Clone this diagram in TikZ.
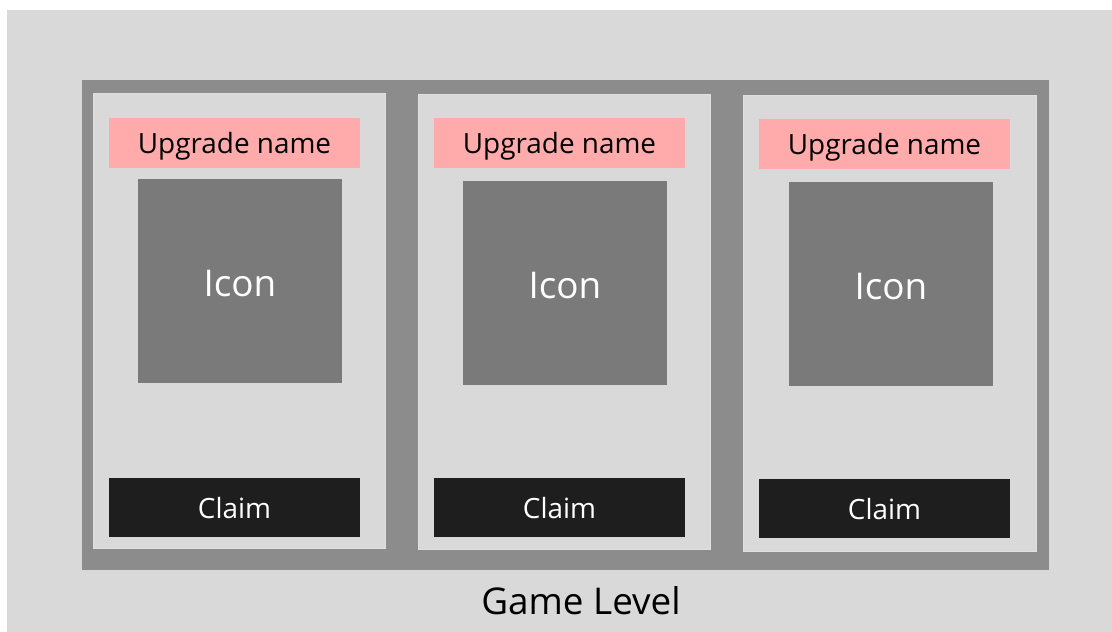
\documentclass[tikz,border=0pt]{standalone}
\usepackage{fontspec}
\setmainfont{Open Sans}
\definecolor{bgc}{HTML}{D9D9D9}
\definecolor{framec}{HTML}{8C8C8C}
\definecolor{cardc}{HTML}{D9D9D9}
\definecolor{cardedge}{HTML}{E0E0E0}
\definecolor{pinkc}{HTML}{FFABAB}
\definecolor{iconc}{HTML}{7A7A7A}
\definecolor{claimc}{HTML}{1E1E1E}
\tikzset{
  box/.style={rectangle, inner sep=0pt, outer sep=0pt, anchor=north west},
  cardbox/.style={box, fill=cardc, draw=cardedge, line width=1bp},
  namebox/.style={box, fill=pinkc},
  iconbox/.style={box, fill=iconc},
  claimbox/.style={box, fill=claimc},
  nametext/.style={text=black, font=\fontsize{28}{32}\selectfont},
  icontext/.style={text=white, font=\fontsize{37}{42}\selectfont},
  claimtext/.style={text=white, font=\fontsize{28}{32}\selectfont},
}
% one card: #1 name prefix, #2 left, #3 top, #4 right, #5 bottom,
% #6/#7 name box corner, #8/#9 icon box corner
\newcommand{\upgradecard}[9]{%
  \node[cardbox, minimum width=#4-#2, minimum height=#5-#3] (#1card) at (#2,#3) {};
  \node[namebox, minimum width=251bp, minimum height=50bp] (#1name) at (#6,#7) {};
  \node[nametext] at ([yshift=-3.5bp]#1name.center) {Upgrade name};
  \node[iconbox, minimum width=204bp, minimum height=204bp] (#1icon) at (#8,#9) {};
  \node[icontext] at ([yshift=-3bp]#1icon.center) {Icon};
}
\begin{document}
\begin{tikzpicture}[x=1bp, y=-1bp]
  \useasboundingbox (0,0) rectangle (1112,632);
  \fill[white] (0,0) rectangle (1112,632);
  \fill[bgc] (7,10) rectangle (1112,632);
  \node[box, fill=framec, minimum width=967bp, minimum height=490bp] (frame) at (82,80) {};

  \upgradecard{a}{93}{94}{387}{550}{109}{118}{138}{179}
  \node[claimbox, minimum width=251bp, minimum height=59bp] (aclaim) at (109,478) {};
  \node[claimtext] at ([yshift=-1bp]aclaim.center) {Claim};

  \upgradecard{b}{418}{95}{712}{551}{434}{118}{463}{181}
  \node[claimbox, minimum width=251bp, minimum height=59bp] (bclaim) at (434,478) {};
  \node[claimtext] at ([yshift=-1bp]bclaim.center) {Claim};

  \upgradecard{c}{743}{96}{1038}{553}{759}{119}{789}{182}
  \node[claimbox, minimum width=251bp, minimum height=59bp] (cclaim) at (759,479) {};
  \node[claimtext] at ([yshift=-1bp]cclaim.center) {Claim};

  \node[font=\fontsize{37}{42}\selectfont, anchor=center] (level) at (581,601) {Game Level};
\end{tikzpicture}
\end{document}
